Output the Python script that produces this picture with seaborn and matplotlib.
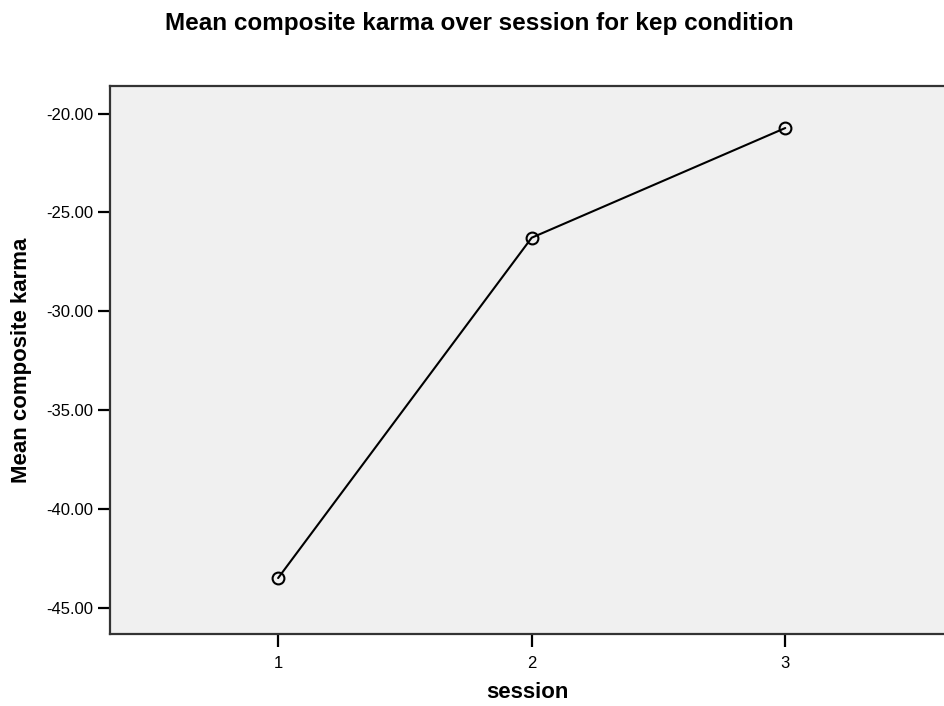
import matplotlib
matplotlib.use("Agg")
import matplotlib.pyplot as plt
import seaborn as sns
import pandas as pd

#------data------
sessions = [1, 2, 3]
mean_karma = [-43.5, -26.28, -20.73]
y_ticks = [-20.0, -25.0, -30.0, -35.0, -40.0, -45.0]

df = pd.DataFrame({"session": sessions, "karma": mean_karma})

sns.set_style("white")
plt.rcParams['font.family'] = ['Liberation Sans', 'DejaVu Sans']

fig = plt.figure(figsize=(9.45, 7.06), dpi=100)
ax = fig.add_axes([0.1164, 0.102, 0.8836, 0.776])
ax.set_facecolor("#f0f0f0")

sns.lineplot(data=df, x="session", y="karma", ax=ax, color="black",
             linewidth=1.5, marker="o", markersize=8.5,
             markerfacecolor="none", markeredgecolor="black",
             markeredgewidth=1.5)

ax.set_xlim(0.337, 3.63)
ax.set_ylim(-46.33, -18.61)
ax.set_xticks(sessions)
ax.set_xticklabels([str(s) for s in sessions])
ax.set_yticks(y_ticks)
ax.set_yticklabels([f"{v:.2f}" for v in y_ticks])
ax.tick_params(axis="both", direction="out", length=9, width=1.6,
               color="black", labelsize=12, labelcolor="black",
               bottom=True, left=True)
ax.tick_params(axis="x", pad=7)
ax.tick_params(axis="y", pad=3)

for side in ["top", "left", "bottom"]:
    ax.spines[side].set_visible(True)
    ax.spines[side].set_color("#333333")
    ax.spines[side].set_linewidth(1.6)
ax.spines["right"].set_visible(False)

ax.set_xlabel("session", fontsize=16, fontweight="bold", color="black")
ax.set_ylabel("Mean composite karma", fontsize=16, fontweight="bold", color="black")
ax.xaxis.set_label_coords(0.5, -0.088)
ax.yaxis.set_label_coords(-0.094, 0.5)
fig.text(0.507, 0.957, "Mean composite karma over session for kep condition",
         ha="center", va="baseline", fontsize=17.5, fontweight="bold", color="black")

fig.savefig("out.png", dpi=100)
